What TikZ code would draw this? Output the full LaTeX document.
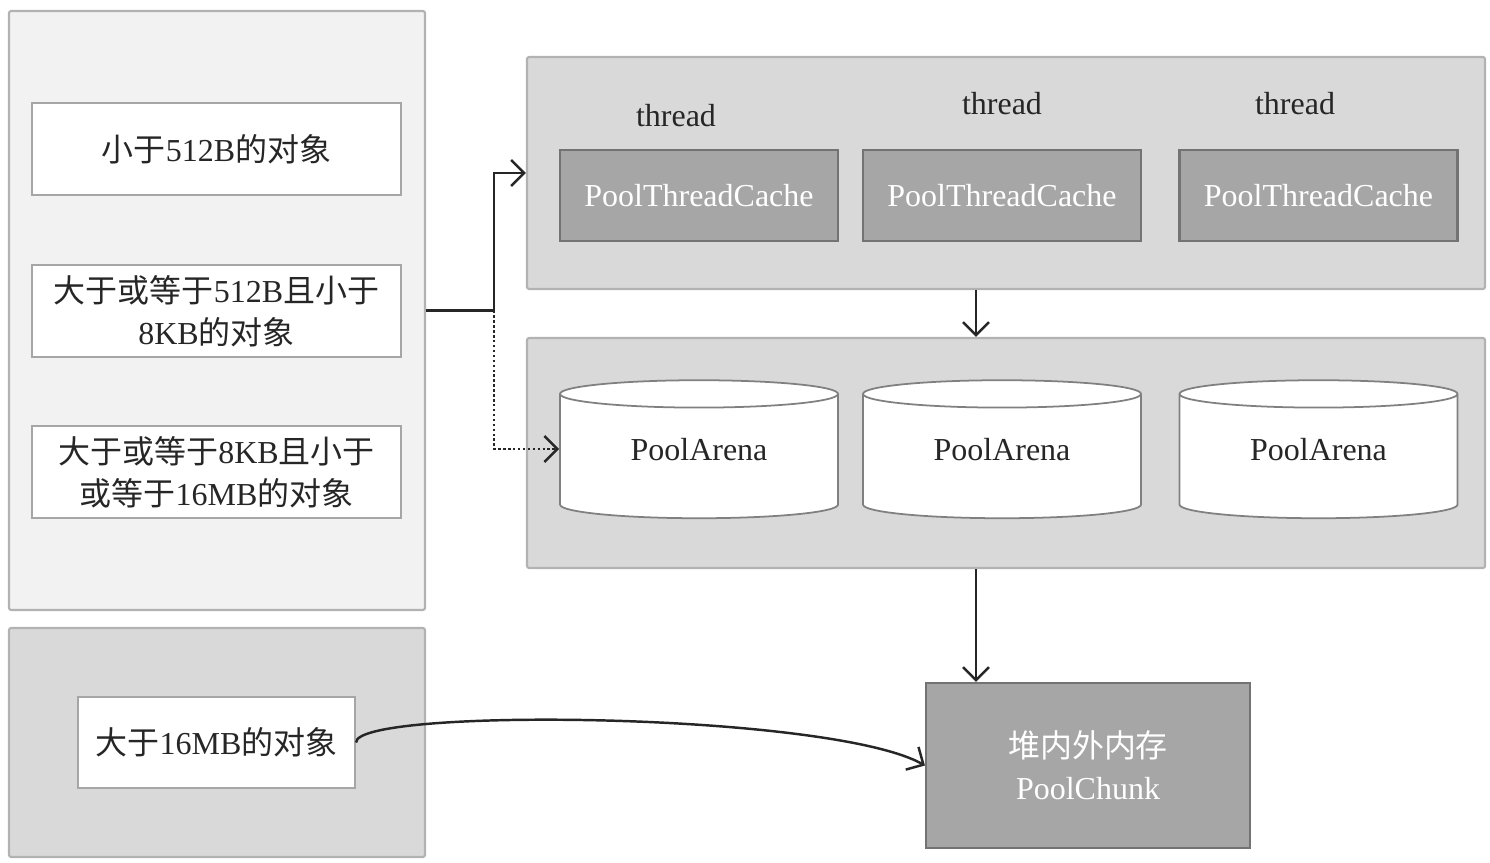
\documentclass[tikz,border=0pt]{standalone}
\usepackage{fontspec}
\usepackage{tikz}
\usetikzlibrary{arrows.meta,shapes.geometric}
\setmainfont{Liberation Serif}
\newfontfamily\zhfont{Noto Sans CJK SC}
\newcommand{\hz}[1]{{\zhfont #1}}

\begin{document}
\begin{tikzpicture}[
    txt/.style={font=\fontsize{9.1}{12}\selectfont, text=black!85},
    panel/.style={draw=black!30, line width=0.6pt, rounded corners=0.6pt, inner sep=0pt},
    objbox/.style={txt, draw=black!35, fill=white, line width=0.6pt, align=center,
      minimum width=3.69cm, minimum height=0.92cm, inner sep=0pt},
    cachebox/.style={txt, text=white, draw=black!55, fill=black!35, line width=0.6pt,
      minimum width=2.78cm, minimum height=0.91cm, inner sep=0pt},
    arenabox/.style={txt, cylinder, shape border rotate=90, aspect=0.2, draw=black!50,
      fill=white, line width=0.5pt, minimum width=2.78cm, minimum height=1.38cm,
      inner sep=0pt, text depth=0.15cm},
    link/.style={draw=black!85, line width=0.7pt, -{Straight Barb[length=1.3mm,width=2.6mm]}}
  ]
  \useasboundingbox (0,0) rectangle (14.90,8.62);
  % left side
  \node[panel, fill=black!5, minimum width=4.16cm, minimum height=5.99cm] (left) at (2.17,5.515) {};
  \node[panel, fill=black!15, minimum width=4.16cm, minimum height=2.29cm] (big) at (2.17,1.195) {};
  \node[objbox] (small) at (2.165,7.13) {\hz{小于}512B\hz{的对象}};
  \node[objbox] (mid) at (2.165,5.51) {\hz{大于或等于}512B\hz{且小于}\\8KB\hz{的对象}};
  \node[objbox] (norm) at (2.165,3.90) {\hz{大于或等于}8KB\hz{且小于}\\\hz{或等于}16MB\hz{的对象}};
  \node[objbox, minimum width=2.77cm, minimum height=0.91cm] (huge) at (2.165,1.195) {\hz{大于}16MB\hz{的对象}};
  % right side
  \node[panel, fill=black!15, minimum width=9.58cm, minimum height=2.32cm] (top) at (10.06,6.89) {};
  \node[panel, fill=black!15, minimum width=9.58cm, minimum height=2.30cm] (pool) at (10.06,4.09) {};
  \node[txt] (t1) at (6.76,7.46) {thread};
  \node[txt] (t2) at (10.02,7.58) {thread};
  \node[txt] (t3) at (12.95,7.58) {thread};
  \node[cachebox] (c1) at (6.99,6.665) {PoolThreadCache};
  \node[cachebox] (c2) at (10.02,6.665) {PoolThreadCache};
  \node[cachebox] (c3) at (13.185,6.665) {PoolThreadCache};
  \node[arenabox] (a1) at (6.99,4.055) {PoolArena};
  \node[arenabox] (a2) at (10.02,4.055) {PoolArena};
  \node[arenabox] (a3) at (13.185,4.055) {PoolArena};
  \node[cachebox, minimum width=3.24cm, minimum height=1.65cm, align=center] (chunk) at (10.88,0.965) {\hz{堆内外内存}\\PoolChunk};
  % arrows
  \coordinate (ax) at (9.76,0);
  \coordinate (aw) at (0,4.13);
  \draw[link] (left.east) -- ++(0.68,0) coordinate (split) |- (top.west);
  \draw[link, dash pattern=on 0.7pt off 0.7pt] (split) |- (a1.west |- aw);
  \draw[link] (top.south -| ax) -- (pool.north -| ax);
  \draw[link] (pool.south -| ax) -- (chunk.north -| ax);
  \draw[link] (huge.east) .. controls (3.55,1.55) and (8.3,1.5) .. (chunk.west);%big objects
\end{tikzpicture}
\end{document}
